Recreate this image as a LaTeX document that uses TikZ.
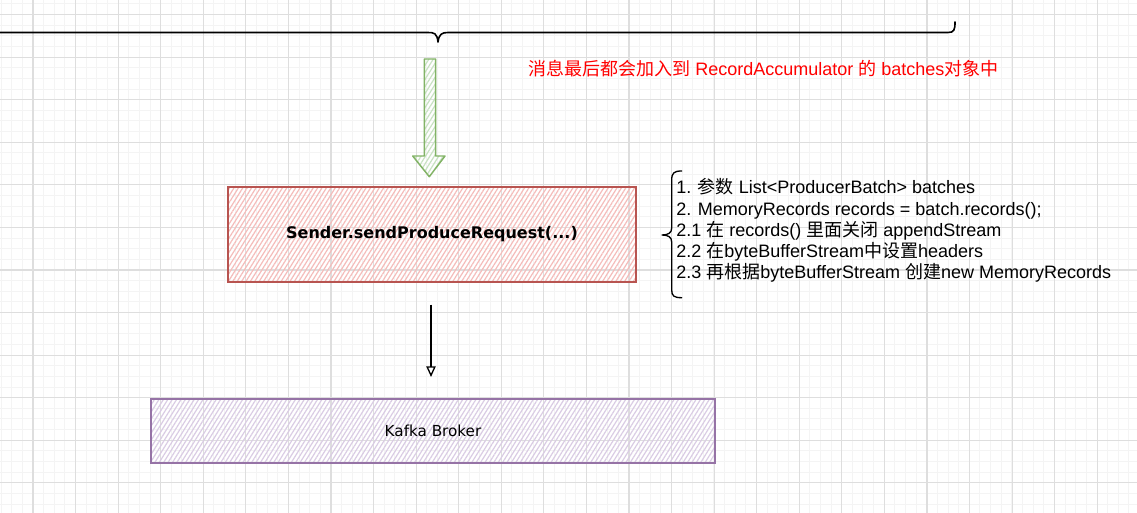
\documentclass[tikz,border=0pt]{standalone}
\usepackage{fontspec}
\setmainfont{Liberation Sans}
\newfontfamily\cjk{Noto Sans CJK SC}
\newfontfamily\sketchfont{DejaVu Sans}
\usetikzlibrary{patterns.meta,arrows.meta}
\definecolor{gridminor}{RGB}{244,244,244}
\definecolor{gridmajor}{RGB}{222,222,222}
\definecolor{redstroke}{RGB}{184,84,80}
\definecolor{redhatch}{RGB}{245,188,186}
\definecolor{greenstroke}{RGB}{130,179,102}
\definecolor{greenhatch}{RGB}{200,226,194}
\definecolor{purplestroke}{RGB}{150,115,166}
\definecolor{purplehatch}{RGB}{218,204,228}
\definecolor{notered}{RGB}{255,0,0}
\tikzset{
  minorline/.style={draw=gridminor, line width=0.75pt},
  majorline/.style={draw=gridmajor, line width=0.8pt},
  hatch/.style={pattern={Lines[angle=58,distance=2.8pt,line width=0.9pt]}},
  sketchbox/.style={inner sep=0pt, line width=1.1pt, hatch},
  redbox/.style={sketchbox, draw=redstroke, minimum width=306pt, minimum height=71.25pt,
    pattern color=redhatch},
  purplebox/.style={sketchbox, draw=purplestroke, minimum width=423pt, minimum height=48pt,
    pattern color=purplehatch},
  greenarrow/.style={draw=greenstroke, line width=1.1pt, line join=round, hatch,
    pattern color=greenhatch},
  bracepath/.style={draw=black, line width=1.2pt, line cap=round, line join=round},
  conn/.style={draw=black, line width=1pt, -{Triangle[open,length=8pt,width=7pt]}},
  notetext/.style={font=\fontsize{13.5pt}{16pt}\selectfont, inner sep=0pt, anchor=base west},
}
\begin{document}
\begin{tikzpicture}[x=0.75pt,y=-0.75pt]
\useasboundingbox (0,0) rectangle (1137,513);
\fill[white] (0,0) rectangle (1137,513);
% grid
\foreach \i in {-3,...,104} {\draw[minorline] ({33+10.64*\i},0) -- ({33+10.64*\i},513);}
\foreach \j in {-1,...,48} {\draw[minorline] (0,{14.6+10.64*\j}) -- (1137,{14.6+10.64*\j});}
\foreach \k in {-1,...,26} {\draw[majorline] ({33+42.57*\k},0) -- ({33+42.57*\k},513);}
\foreach \k in {0,...,12} {\draw[majorline] (0,{14.6+42.57*\k}) -- (1137,{14.6+42.57*\k});}

% top brace (cut on the left)
\draw[bracepath] (0,32.5) -- (428,32.5)
  .. controls (434,32.5) and (437,33) .. (438,42)
  .. controls (439,34) and (442,32.5) .. (448,32.5)
  -- (948,32.5) .. controls (954,32.5) and (955,30) .. (955,22);

% red note
\node[notetext, text=notered] (note) at (528,76)
  {{\cjk 消息最后都会加入到} RecordAccumulator {\cjk 的} batches{\cjk 对象中}};

% green block arrow
\draw[greenarrow] (424.3,59) -- (435.7,59) -- (435.7,156) -- (445,156) -- (429.3,176.7)
  -- (412.7,156) -- (424.3,156) -- cycle;

% boxes
\node[redbox] (send) at (432,234.5)
  {\sketchfont\bfseries\fontsize{12pt}{14pt}\selectfont Sender.sendProduceRequest(...)};
\node[purplebox] (kafka) at (433,431)
  {\sketchfont\fontsize{11.4pt}{13pt}\selectfont Kafka Broker};

% connector
\draw[conn, shorten <=17pt, shorten >=16.5pt] (431,282) -- (431,399);

% right brace
\draw[bracepath, line width=1pt] (681.7,171) .. controls (674,171) and (671.7,173) .. (671.7,180)
  -- (671.7,228) .. controls (671.7,233) and (668,235) .. (662,235)
  .. controls (668,235) and (671.7,237) .. (671.7,242)
  -- (671.7,290) .. controls (671.7,296) and (674,297.7) .. (681.7,297.7);

% right text
\node[notetext] (l1) at (676,194) {1. {\cjk 参数} List<ProducerBatch> batches};
\node[notetext] (l2) at (676,215) {2. MemoryRecords records = batch.records();};
\node[notetext] (l3) at (676,236) {2.1 {\cjk 在} records() {\cjk 里面关闭} appendStream};
\node[notetext] (l4) at (676,257) {2.2 {\cjk 在}byteBufferStream{\cjk 中设置}headers};
\node[notetext] (l5) at (676,278) {2.3 {\cjk 再根据}byteBufferStream {\cjk 创建}new MemoryRecords};
\end{tikzpicture}
\end{document}
